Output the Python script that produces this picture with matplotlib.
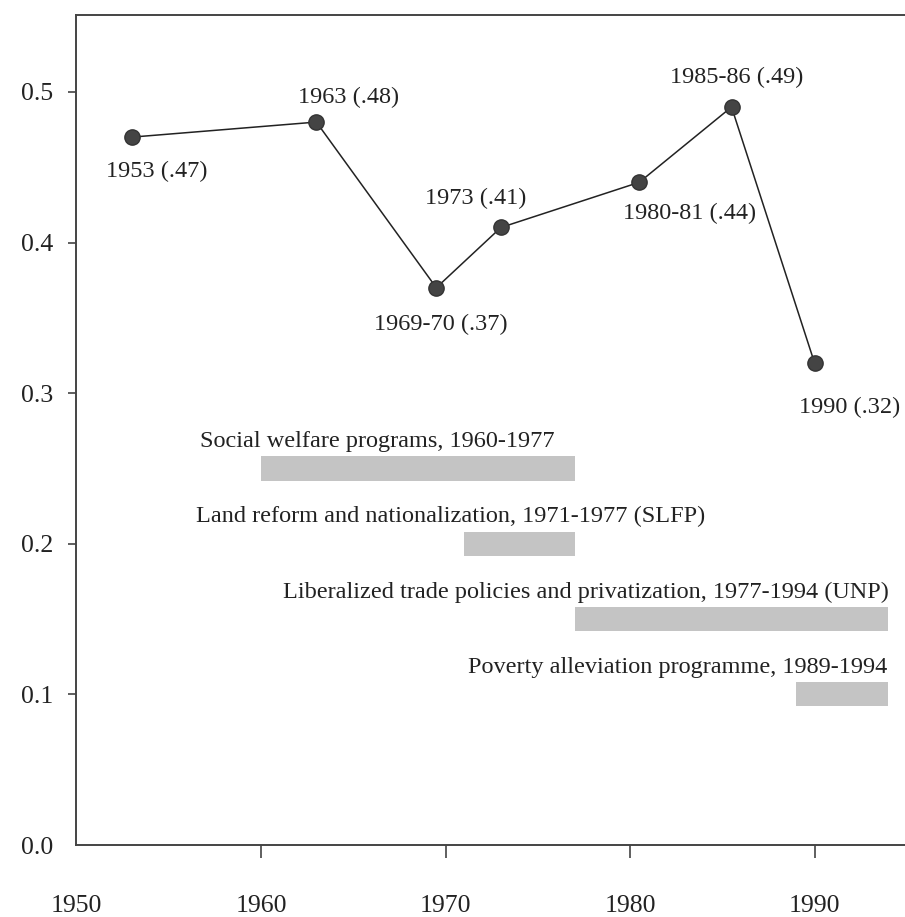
import matplotlib.pyplot as plt

plt.rcParams['font.family'] = ['Liberation Serif', 'DejaVu Serif']

# Gini points
years = [1953, 1963, 1969.5, 1973, 1980.5, 1985.5, 1990]
gini = [0.47, 0.48, 0.37, 0.41, 0.44, 0.49, 0.32]
point_labels = ['1953 (.47)', '1963 (.48)', '1969-70 (.37)', '1973 (.41)',
                '1980-81 (.44)', '1985-86 (.49)', '1990 (.32)']
# label offsets in pixels (dx, dy)
label_offsets = [(25, -34), (32, 25), (5, -37), (-25, 29), (50, -31), (5, 30), (35, -44)]

# policy periods
policy_names = ['Social welfare programs, 1960-1977',
                'Land reform and nationalization, 1971-1977 (SLFP)',
                'Liberalized trade policies and privatization, 1977-1994 (UNP)',
                'Poverty alleviation programme, 1989-1994']
policy_start = [1960, 1971, 1977, 1989]
policy_end = [1977, 1977, 1994, 1994]
policy_level = [0.25, 0.20, 0.15, 0.10]
policy_text_x = [1956.7, 1956.5, 1961.2, 1971.2]

fig = plt.figure(figsize=(9.05, 9.17), dpi=100)
ax = fig.add_axes([0.0845, 0.0785, 0.9155, 0.905])

for s, e, lvl, name, tx in zip(policy_start, policy_end, policy_level, policy_names, policy_text_x):
    ax.barh(lvl, e - s, left=s, height=0.016, color='#c4c4c4', edgecolor='none')
    ax.text(tx, lvl + 0.018, name, fontsize=17.5, color='#222222', va='center', ha='left')

ax.plot(years, gini, color='#222222', lw=1.1, marker='o', markersize=11,
        markerfacecolor='#444444', markeredgecolor='#333333', zorder=3)

for x, y, lab, (dx, dy) in zip(years, gini, point_labels, label_offsets):
    ax.annotate(lab, (x, y), xytext=(dx, dy), textcoords='offset pixels',
                ha='center', va='center', fontsize=17.5, color='#222222')

ax.set_xlim(1950, 1994.9)
ax.set_ylim(0, 0.551)
ax.set_xticks([1950, 1960, 1970, 1980, 1990])
ax.set_yticks([0.0, 0.1, 0.2, 0.3, 0.4, 0.5])
ax.set_yticklabels(['0.0', '0.1', '0.2', '0.3', '0.4', '0.5'])

ax.spines['right'].set_visible(False)
for sp in ['left', 'bottom', 'top']:
    ax.spines[sp].set_color('#444444')
    ax.spines[sp].set_linewidth(1.4)

ax.tick_params(axis='x', direction='out', length=9, width=1.2, color='#444444',
               pad=27, labelsize=18.5, labelcolor='#222222')
ax.tick_params(axis='y', direction='out', length=6, width=1.2, color='#444444',
               pad=11, labelsize=18.5, labelcolor='#222222')
ax.xaxis.get_major_ticks()[0].tick1line.set_visible(False)
ax.yaxis.get_major_ticks()[0].tick1line.set_visible(False)

fig.savefig('out.png', dpi=100)
